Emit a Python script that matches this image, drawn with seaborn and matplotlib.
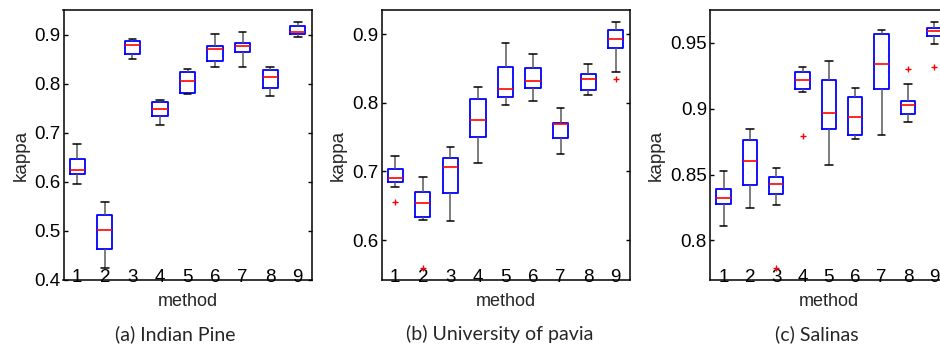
import pandas as pd
import seaborn as sns
import matplotlib.pyplot as plt
from matplotlib.ticker import FormatStrFormatter

methods = ["1", "2", "3", "4", "5", "6", "7", "8", "9"]

# box summaries: whisker low, q1, median, q3, whisker high
ip_low = [0.596, 0.425, 0.851, 0.716, 0.778, 0.833, 0.833, 0.774, 0.895]
ip_q1 = [0.616, 0.463, 0.861, 0.734, 0.781, 0.847, 0.864, 0.792, 0.901]
ip_med = [0.625, 0.501, 0.878, 0.748, 0.806, 0.871, 0.877, 0.813, 0.905]
ip_q3 = [0.647, 0.532, 0.886, 0.763, 0.823, 0.876, 0.883, 0.827, 0.917]
ip_high = [0.678, 0.558, 0.890, 0.767, 0.830, 0.901, 0.905, 0.833, 0.926]

pu_low = [0.678, 0.630, 0.628, 0.712, 0.796, 0.803, 0.726, 0.812, 0.845]
pu_q1 = [0.684, 0.633, 0.669, 0.750, 0.808, 0.821, 0.749, 0.819, 0.880]
pu_med = [0.691, 0.654, 0.706, 0.775, 0.820, 0.832, 0.769, 0.834, 0.893]
pu_q3 = [0.703, 0.670, 0.720, 0.805, 0.852, 0.850, 0.770, 0.842, 0.906]
pu_high = [0.723, 0.692, 0.736, 0.823, 0.887, 0.871, 0.792, 0.857, 0.917]

sa_low = [0.811, 0.825, 0.827, 0.913, 0.857, 0.877, 0.880, 0.890, 0.949]
sa_q1 = [0.828, 0.842, 0.835, 0.915, 0.885, 0.880, 0.915, 0.896, 0.955]
sa_med = [0.832, 0.860, 0.843, 0.922, 0.897, 0.894, 0.934, 0.903, 0.959]
sa_q3 = [0.839, 0.876, 0.848, 0.928, 0.922, 0.909, 0.957, 0.906, 0.961]
sa_high = [0.853, 0.885, 0.855, 0.932, 0.936, 0.916, 0.960, 0.919, 0.966]

# outliers (red +)
pu_out_method = ["1", "2", "9"]
pu_out_value = [0.655, 0.560, 0.835]
sa_out_method = ["3", "4", "8", "9"]
sa_out_value = [0.779, 0.879, 0.930, 0.932]

titles = ["(a) Indian Pine", "(b) University of pavia", "(c) Salinas"]
ylims = [(0.4, 0.95), (0.542, 0.935), (0.770, 0.975)]
yticks = [[0.4, 0.5, 0.6, 0.7, 0.8, 0.9], [0.6, 0.7, 0.8, 0.9], [0.8, 0.85, 0.9, 0.95]]


def summary_frame(parts):
    rows = []
    for stat in parts:
        for m, v in zip(methods, stat):
            rows.append({"method": m, "kappa": v})
    return pd.DataFrame(rows)


boxes = [
    summary_frame([ip_low, ip_q1, ip_med, ip_q3, ip_high]),
    summary_frame([pu_low, pu_q1, pu_med, pu_q3, pu_high]),
    summary_frame([sa_low, sa_q1, sa_med, sa_q3, sa_high]),
]
outliers = [
    None,
    pd.DataFrame({"method": pu_out_method, "kappa": pu_out_value}),
    pd.DataFrame({"method": sa_out_method, "kappa": sa_out_value}),
]

sns.set_style("white")
plt.rcParams["font.family"] = ["Liberation Sans", "DejaVu Sans"]

fig = plt.figure(figsize=(9.4, 3.49), dpi=100)
positions = [
    [63.5 / 940, 69 / 349, 248 / 940, 270 / 349],
    [381.5 / 940, 69 / 349, 248 / 940, 270 / 349],
    [710.4 / 940, 69 / 349, 237 / 940, 270 / 349],
]
label_x = [-0.17, -0.174, -0.228]
caption_x = [175.5 / 940, 500 / 940, 817 / 940]

for i in range(3):
    ax = fig.add_axes(positions[i])
    sns.boxplot(data=boxes[i], x="method", y="kappa", order=methods, ax=ax,
                width=0.55, fill=False, color="blue", whis=(0, 100),
                showfliers=False, linewidth=1.3,
                medianprops=dict(color="red", linewidth=1.2),
                whiskerprops=dict(color="0.35", linewidth=1.1),
                capprops=dict(color="black", linewidth=1.1))
    if outliers[i] is not None:
        sns.stripplot(data=outliers[i], x="method", y="kappa", order=methods,
                      ax=ax, jitter=False, marker="+", color="red", size=4.5,
                      linewidth=1.0)
    ax.set_xlim(-0.5, 8.5)
    ax.set_ylim(*ylims[i])
    ax.set_yticks(yticks[i])
    ax.yaxis.set_major_formatter(FormatStrFormatter("%g"))
    ax.tick_params(axis="y", direction="in", length=3, width=1, pad=2.5,
                   labelsize=13.5, right=True, left=True, colors="black")
    ax.tick_params(axis="x", length=0, pad=-8, labelsize=13.5, colors="black")
    for s in ax.spines.values():
        s.set_visible(True)
        s.set_color("black")
        s.set_linewidth(1.1)
    ax.set_xlabel("method", fontsize=13, va="center")
    ax.xaxis.set_label_coords(0.5, (280 - 301.5) / 270)
    ax.set_ylabel("kappa", fontsize=13.5, va="center")
    ax.yaxis.set_label_coords(label_x[i], 0.46)
    fig.text(caption_x[i], 1 - 334 / 349, titles[i], ha="center", va="center",
             fontsize=14, family=["Lato", "DejaVu Sans"])

fig.savefig("out.png", dpi=100)
